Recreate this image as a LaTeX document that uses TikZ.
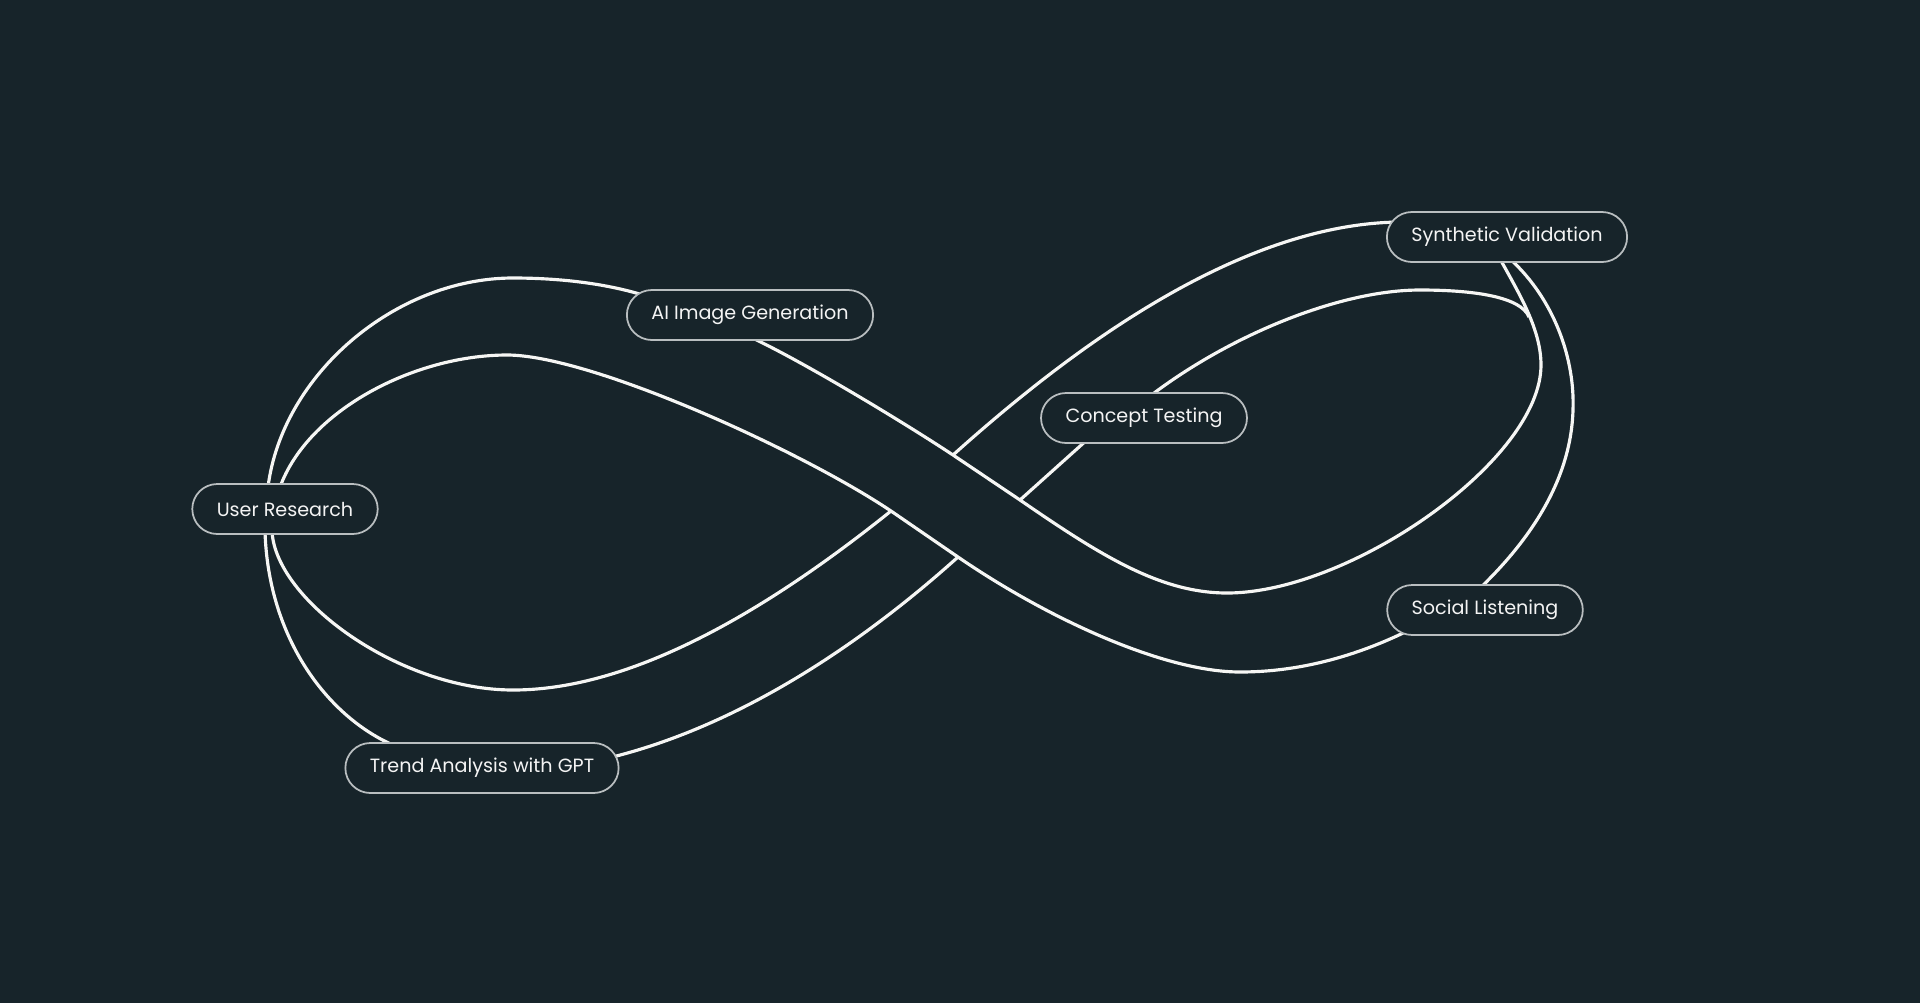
\documentclass[tikz,border=0pt]{standalone}
\usepackage{fontspec}
\setmainfont{Poppins}
\usepackage{tikz}
\usetikzlibrary{calc}
\definecolor{bg}{HTML}{17242A}
\definecolor{band}{HTML}{F6F6F4}
\definecolor{rim}{HTML}{B9BEC0}
\definecolor{label}{HTML}{F4F4F4}
\pgfdeclarelayer{back}
\pgfdeclarelayer{strands}
\pgfsetlayers{back,strands,main}
\tikzset{
  strand/.style={draw=band, line width=0.9pt},
  pill/.style={draw=rim, fill=bg, line width=0.5pt, rounded corners=2.5mm,
    minimum height=5mm, inner xsep=2.45mm, inner ysep=0pt, text=label,
    font=\fontsize{5.45pt}{7pt}\selectfont},
}

\begin{document}
\begin{tikzpicture}[x=0.1mm, y=-0.1mm]
  \begin{pgfonlayer}{back}
    \fill[bg] (0,0) rectangle (1920,1003);
  \end{pgfonlayer}
  \useasboundingbox (0,0) rectangle (1920,1003);

  % stations on the loop
  \node[pill] (ur) at (285,509) {User Research};
  \node[pill] (ai) at (750,315) {AI Image Generation};
  \node[pill] (ct) at (1144,418) {Concept Testing};
  \node[pill] (sv) at (1507,237) {Synthetic Validation};
  \node[pill] (sl) at (1485,610) {Social Listening};
  \node[pill] (ta) at (482,768) {Trend Analysis with GPT};

  % where the two bands cross, and where the right loop merges
  \coordinate (X1) at (953,455);
  \coordinate (X2) at (1020,500);
  \coordinate (X3) at (891,511);
  \coordinate (X4) at (958,557);
  \coordinate (J) at (1529,317);

  \begin{pgfonlayer}{strands}
  % left loop, outer edge
  \draw[strand] ($(ur.north)+(-17,4)$) .. controls (282,375) and (395,278) .. (513,278)
    .. controls (570,278) and (615,286) .. ($(ai.west)+(20,-19)$);
  \draw[strand] ($(ur.south)+(-20,-4)$) .. controls (268,640) and (330,720) .. ($(ta.north)+(-84,5)$);

  % band one, lower edge
  \draw[strand] ($(ur.north)+(-5,4)$) .. controls (308,410) and (415,355) .. (507,355)
    .. controls (590,355) and (800,450) .. (X3) -- (X4)
    .. controls (1050,620) and (1165,672) .. (1240,672)
    .. controls (1310,672) and (1370,650) .. ($(sl.west)+(27,18)$);

  % band one, upper edge
  \draw[strand] ($(ai.south)+(0,-4)$) .. controls (800,360) and (900,420) .. (X1) -- (X2)
    .. controls (1100,555) and (1160,593) .. (1227,593)
    .. controls (1350,593) and (1541,460) .. (1541,365)
    .. controls (1541,330) and (1520,295) .. ($(sv.south)+(-7,-4)$);

  % band two, upper part
  \draw[strand] (X1) .. controls (1070,350) and (1240,222) .. ($(sv.west)+(17,-15)$);
  \draw[strand] (X2) -- ($(ct.south)+(-57,-4)$);
  \draw[strand] ($(ct.north)+(6,4)$) .. controls (1230,335) and (1340,290) .. (1420,290)
    .. controls (1475,290) and (1521,297) .. (J);

  % right loop, outer edge
  \draw[strand] ($(sv.south)+(3,-4)$) .. controls (1555,300) and (1575,360) .. (1573,410)
    .. controls (1571,480) and (1530,540) .. ($(sl.north)+(-5,4)$);

  % band two, lower part
  \draw[strand] (X3) .. controls (780,600) and (640,690) .. (513,690)
    .. controls (400,690) and (275,600) .. ($(ur.south)+(-13,-4)$);
  \draw[strand] (X4) .. controls (860,645) and (740,725) .. ($(ta.east)+(-7,-11)$);
  \end{pgfonlayer}
\end{tikzpicture}
\end{document}
